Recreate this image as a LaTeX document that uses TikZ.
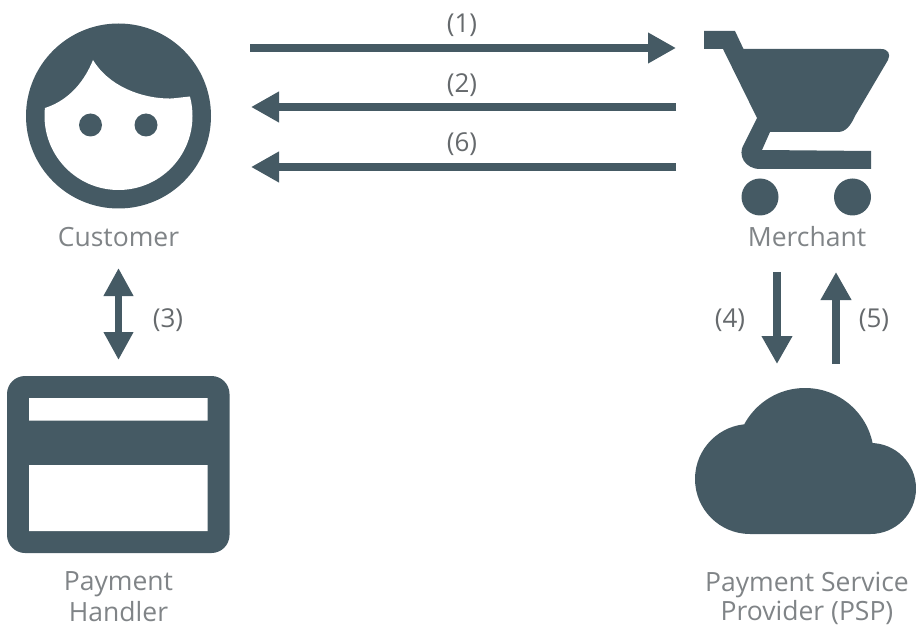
\documentclass[tikz,border=0pt]{standalone}
\usepackage{fontspec}
\setmainfont{Open Sans}
\usetikzlibrary{arrows.meta}
\definecolor{icon}{HTML}{455A64}
\definecolor{lab}{HTML}{808487}
\definecolor{num}{HTML}{666A6D}
\tikzset{
  flow/.style={draw=icon,line width=8pt,-{Triangle[length=28pt,width=29pt]}},
  flowboth/.style={draw=icon,line width=7pt,{Triangle[length=28pt,width=28pt]}-{Triangle[length=28pt,width=28pt]}},
  caption/.style={text=lab,font=\fontsize{26.5}{30}\selectfont,inner sep=0pt,anchor=center},
  stepnum/.style={text=num,font=\fontsize{26}{30}\selectfont,inner sep=0pt,anchor=center},
  solid icon/.style={fill=icon}
}
\begin{document}
\begin{tikzpicture}[x=1pt,y=-1pt]
\useasboundingbox (0,0) rectangle (916,631);
% Customer
\fill[solid icon] (118.5,116) circle [radius=92.5pt];
\begin{scope}
\clip (118.5,116) circle [radius=74pt];
\fill[white] (30,112) -- (45,108) .. controls (70,100) and (85,80) .. (93,60)
  .. controls (108,85) and (140,99) .. (172,98.5) -- (190,96.5) -- (215,90) -- (215,215) -- (20,215) -- cycle;
\end{scope}
\fill[solid icon] (90.5,125) circle [radius=11.5pt] (146,125) circle [radius=11.5pt];
% Merchant
\fill[solid icon] (704,31) -- (735,31) -- (743.5,49) -- (881,49) .. controls (888,49) and (891,54) .. (888,60)
  -- (855,116) .. controls (851,125) and (846,132) .. (838,132) -- (770,132) -- (762,150) -- (871,151) -- (871,169) -- (760,169)
  .. controls (745,169) and (737,155) .. (744,144) -- (757,118) -- (723,49) -- (704,49) -- cycle;
\fill[solid icon] (760,197) circle [radius=18.5pt] (852.5,197) circle [radius=18.5pt];
% PSP cloud
\fill[solid icon] (750,479) circle [radius=55pt] (805,457) circle [radius=69pt] (870.5,488.5) circle [radius=45.5pt]
  (750,479) rectangle (870.5,534);
% Payment Handler
\fill[solid icon,rounded corners=18pt] (7,376) rectangle (229.5,553);
\fill[white] (29,398) rectangle (207.5,420.5) (29,465) rectangle (207.5,531);
% connector ends
\coordinate (c1a) at (250,48); \coordinate (c1b) at (676,48);
\coordinate (c2a) at (676,107); \coordinate (c2b) at (251,107);
\coordinate (c6a) at (676,167); \coordinate (c6b) at (251,167);
\coordinate (c3a) at (118.5,268); \coordinate (c3b) at (118.5,360);
\coordinate (c4a) at (777,272); \coordinate (c4b) at (777,364);
\coordinate (c5a) at (836,364); \coordinate (c5b) at (836,272);
\draw[flow] (c1a) -- (c1b);
\draw[flow] (c2a) -- (c2b);
\draw[flow] (c6a) -- (c6b);
\draw[flowboth] (c3a) -- (c3b);
\draw[flow] (c4a) -- (c4b);
\draw[flow] (c5a) -- (c5b);
% labels
\node[stepnum] (n1) at (462,25) {(1)};
\node[stepnum] (n2) at (462,85) {(2)};
\node[stepnum] (n6) at (462,144) {(6)};
\node[stepnum] (n3) at (168,320) {(3)};
\node[stepnum] (n4) at (730,320) {(4)};
\node[stepnum] (n5) at (874,320) {(5)};
\node[caption] (customer) at (118.5,237) {Customer};
\node[caption] (merchant) at (807,237) {Merchant};
\node[caption] (handler1) at (118.5,584) {Payment};
\node[caption] (handler2) at (118.5,612) {Handler};
\node[caption] (psp1) at (807,585) {Payment Service};
\node[caption] (psp2) at (807,613) {Provider (PSP)};
\end{tikzpicture}
\end{document}
